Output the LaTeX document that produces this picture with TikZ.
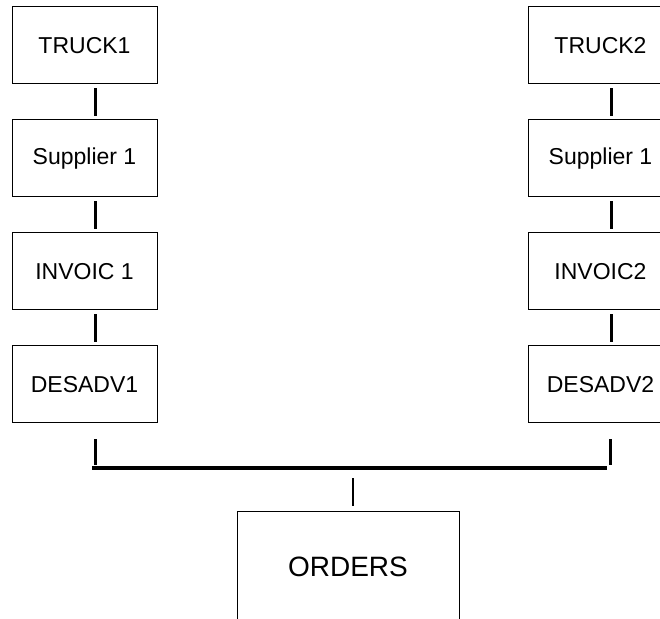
\documentclass[tikz,border=0pt]{standalone}
\usepackage{fontspec}
\setmainfont{Liberation Sans}
\usetikzlibrary{positioning}

\begin{document}
\begin{tikzpicture}[
    x=0.5pt, y=-0.5pt,
    node distance=17.5pt,
    block/.style={rectangle, draw, line width=0.5pt, minimum width=72.5pt, minimum height=38.5pt, inner sep=0pt, text centered, font=\fontsize{11.5}{13}\selectfont},
    bigblock/.style={block, minimum width=111pt, minimum height=55pt, font=\fontsize{14}{16}\selectfont},
    link/.style={line width=1.2pt},
    bus/.style={line width=1.6pt}
]
\useasboundingbox (0,0) rectangle (660,619);
\clip (0,0) rectangle (660,619);

% Left column
\node[block] (truck1) at (84.5,45.5) {TRUCK1};
\node[block, below=of truck1] (sup1) {Supplier 1};
\node[block, below=of sup1] (inv1) {INVOIC 1};
\node[block, below=of inv1] (desadv1) {DESADV1};

% Right column
\node[block] (truck2) at (600.5,45.5) {TRUCK2};
\node[block, below=of truck2] (sup2) {Supplier 1};
\node[block, below=of sup2] (inv2) {INVOIC2};
\node[block, below=of inv2] (desadv2) {DESADV2};

% Orders
\node[bigblock] (orders) at (348,567) {ORDERS};

% Column links
\foreach \a/\b in {truck1/sup1, sup1/inv1, inv1/desadv1, truck2/sup2, sup2/inv2, inv2/desadv2}
    \draw[link] ([xshift=5.5pt,yshift=-2pt]\a.south) -- ([xshift=5.5pt,yshift=1.5pt]\b.north);

% Bus
\coordinate (busleft) at (92,468);
\coordinate (busright) at (607,468);
\draw[bus] (busleft) -- (busright);
\draw[link] ([xshift=5.5pt,yshift=-8pt]desadv1.south) -- ([xshift=5.5pt,yshift=-21pt]desadv1.south);
\draw[link] ([xshift=5pt,yshift=-8pt]desadv2.south) -- ([xshift=5pt,yshift=-21pt]desadv2.south);
\draw[link] ([xshift=2.5pt,yshift=16.5pt]orders.north) -- ([xshift=2.5pt,yshift=2.5pt]orders.north);

\end{tikzpicture}
\end{document}
